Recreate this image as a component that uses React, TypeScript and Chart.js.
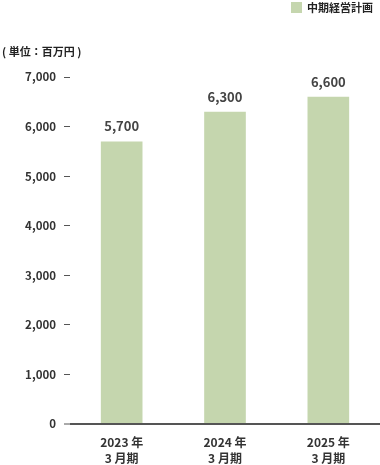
import React, { useEffect, useRef } from "react";
import { Chart, registerables } from "chart.js";

Chart.register(...registerables);

const categories: string[][] = [["2023 年", "3 月期"], ["2024 年", "3 月期"], ["2025 年", "3 月期"]];
const planValues: number[] = [5700, 6300, 6600];
const seriesName = "中期経営計画";
const unitLabel = "( 単位：百万円 )";
const yMin = 0;
const yMax = 7000;
const yStep = 1000;

const FONT = "'Noto Sans CJK JP', 'Noto Sans', sans-serif";
const BAR_COLOR = "#c5d6ae";
const TEXT_COLOR = "#333333";

const overlayPlugin = {
  id: "overlay",
  afterDatasetsDraw(chart: any) {
    const ctx = chart.ctx;
    ctx.save();
    const meta = chart.getDatasetMeta(0);
    ctx.fillStyle = "#444444";
    ctx.font = `bold 13px ${FONT}`;
    ctx.textAlign = "center";
    ctx.textBaseline = "alphabetic";
    meta.data.forEach((bar: any, i: number) => {
      const v = chart.data.datasets[0].data[i] as number;
      ctx.fillText(v.toLocaleString("en-US"), bar.x, bar.y - 10);
    });
    ctx.fillStyle = "#222222";
    ctx.font = `bold 11px ${FONT}`;
    ctx.textAlign = "left";
    ctx.textBaseline = "middle";
    ctx.fillText(unitLabel, 2, 52);
    ctx.fillStyle = BAR_COLOR;
    ctx.fillRect(291, 2, 11, 11);
    ctx.fillStyle = "#222222";
    ctx.font = `bold 11px ${FONT}`;
    ctx.textAlign = "left";
    ctx.textBaseline = "middle";
    ctx.fillText(seriesName, 307, 8);
    ctx.restore();
  },
};

export default function App() {
  const ref = useRef<HTMLCanvasElement>(null);
  useEffect(() => {
    if (!ref.current) return;
    const chart = new Chart(ref.current, {
      type: "bar",
      data: {
        labels: categories,
        datasets: [
          {
            label: seriesName,
            data: planValues,
            backgroundColor: BAR_COLOR,
            borderWidth: 0,
            barPercentage: 0.403,
            categoryPercentage: 1,
          },
        ],
      },
      options: {
        responsive: false,
        animation: false,
        devicePixelRatio: 1,
        layout: { padding: { top: 77, left: 0, right: -3, bottom: 0 } },
        plugins: { legend: { display: false }, tooltip: { enabled: false } },
        scales: {
          x: {
            afterFit: (scale: any) => {
              scale.height = 41;
            },
            grid: { display: false, drawTicks: false },
            border: { display: false },
            ticks: {
              padding: 10,
              color: TEXT_COLOR,
              font: { family: FONT, size: 12, weight: "bold", lineHeight: 1.333 },
              maxRotation: 0,
            },
          },
          y: {
            min: yMin,
            max: yMax,
            afterFit: (scale: any) => {
              scale.width = 70;
            },
            border: { display: false },
            grid: {
              drawOnChartArea: true,
              color: (c: any) => (c.tick && c.tick.value === 0 ? "#555555" : "rgba(0,0,0,0)"),
              lineWidth: (c: any) => (c.tick && c.tick.value === 0 ? 2 : 1),
              tickColor: "#555555",
              tickWidth: 1,
              tickLength: 6,
            },
            ticks: {
              stepSize: yStep,
              padding: 8,
              color: TEXT_COLOR,
              font: { family: FONT, size: 11.5, weight: "bold" },
              callback: (v: any) => Number(v).toLocaleString("en-US"),
            },
          },
        },
      },
      plugins: [overlayPlugin],
    });
    return () => chart.destroy();
  }, []);
  return (
    <div style={{ position: "fixed", left: 0, top: 0, width: 380, height: 465, background: "#fff" }}>
      <canvas ref={ref} width={380} height={465} style={{ width: 380, height: 465 }} />
    </div>
  );
}
